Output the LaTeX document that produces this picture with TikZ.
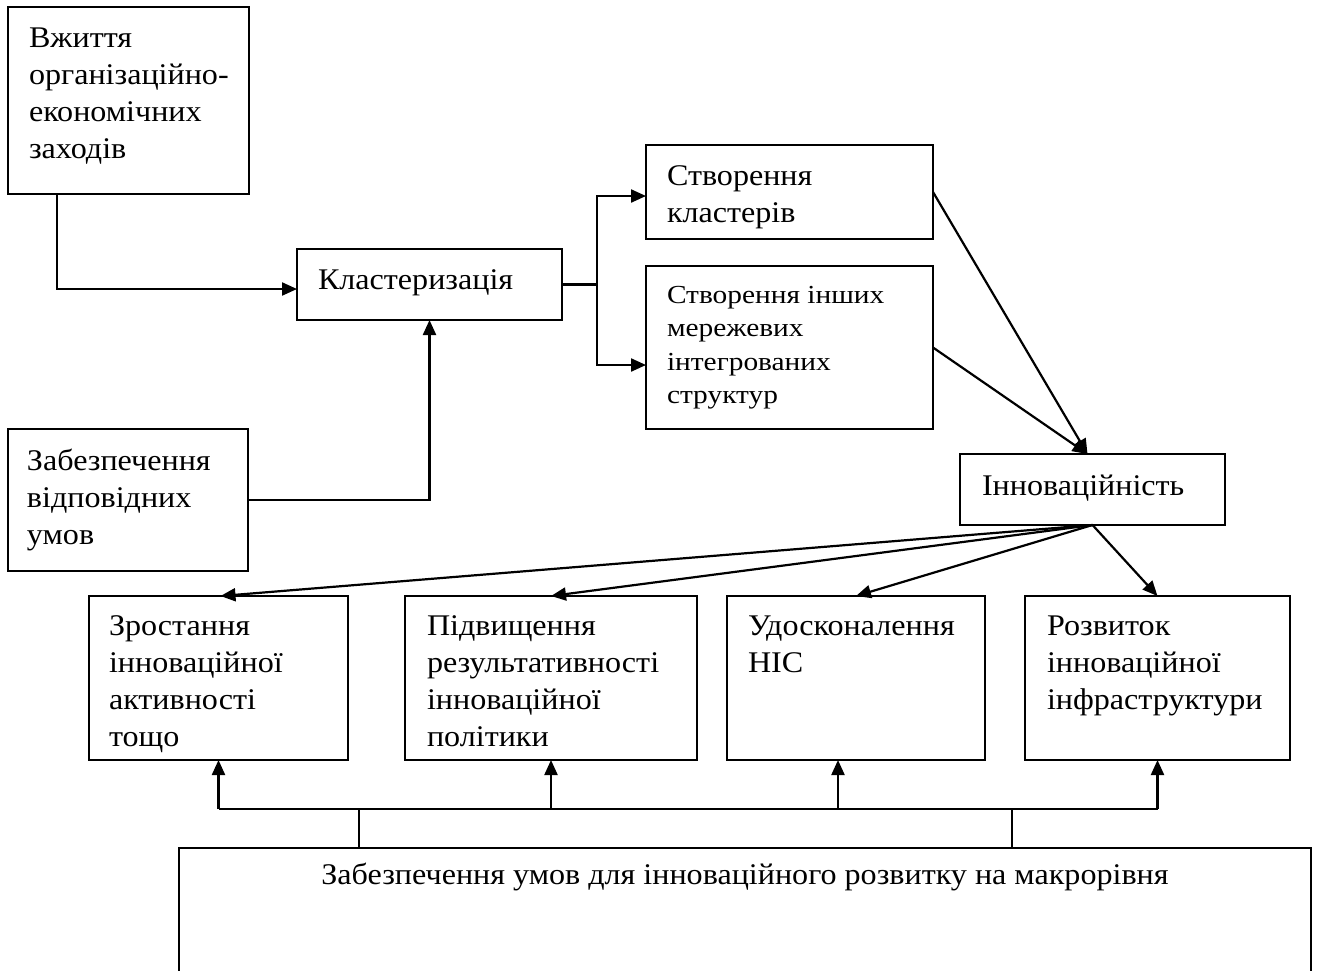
\documentclass[tikz,border=0pt]{standalone}
\usepackage{fontspec}
\setmainfont[FakeStretch=1.07]{Liberation Serif}
\newfontfamily\narrowfont[FakeStretch=1.13]{Liberation Serif}
\usetikzlibrary{arrows.meta}
\newcommand{\myStrut}{\rule{0pt}{22pt}}
\newcommand{\myStrutS}{\rule{0pt}{18pt}}
\begin{document}
\begin{tikzpicture}[x=1pt,y=-1pt,
  box/.style={draw, line width=2.4pt, inner sep=0pt, outer sep=0pt, anchor=north west, rectangle},
  txt/.style={font=\fontsize{30}{37}\selectfont, align=left, inner sep=0pt, outer sep=0pt, anchor=north west},
  txts/.style={font=\narrowfont\fontsize{26}{33.5}\selectfont, align=left, inner sep=0pt, outer sep=0pt, anchor=north west},
  con/.style={line width=2.2pt},
  thincon/.style={line width=1.7pt},
  arr/.style={line width=2.2pt, -{Triangle[length=15pt,width=13pt]}},
]
\useasboundingbox (0,0) rectangle (1317,970);
\fill[white] (0,0) rectangle (1317,970);
\clip (0,0) rectangle (1317,970);

% boxes
\node[box, minimum width=241pt, minimum height=187pt] (n1) at (8,7) {};
\node[txt] (t1) at ([xshift=21pt,yshift=-18pt]n1.north west) {\myStrut Вжиття\\організаційно-\\економічних\\заходів};

\node[box, minimum width=265pt, minimum height=71pt] (n2) at (297,249) {};
\node[txt] (t2) at ([xshift=21pt,yshift=-18pt]n2.north west) {\myStrut Кластеризація};

\node[box, minimum width=287pt, minimum height=94pt] (n3) at (646,145) {};
\node[txt] (t3) at ([xshift=21pt,yshift=-18pt]n3.north west) {\myStrut Створення\\кластерів};

\node[box, minimum width=287pt, minimum height=163pt] (n4) at (646,266) {};
\node[txts] (t4) at ([xshift=21pt,yshift=-19pt]n4.north west) {\myStrutS Створення інших\\мережевих\\інтегрованих\\структур};

\node[box, minimum width=240pt, minimum height=142pt] (n5) at (8,429) {};
\node[txt] (t5) at ([xshift=19pt,yshift=-19pt]n5.north west) {\myStrut Забезпечення\\відповідних\\умов};

\node[box, minimum width=265pt, minimum height=71pt] (n6) at (960,454) {};
\node[txt] (t6) at ([xshift=22pt,yshift=-19pt]n6.north west) {\myStrut Інноваційність};

\node[box, minimum width=259pt, minimum height=164pt] (a) at (89,596) {};
\node[txt] (ta) at ([xshift=20pt,yshift=-17pt]a.north west) {\myStrut Зростання\\інноваційної\\активності\\тощо};

\node[box, minimum width=292pt, minimum height=164pt] (b) at (405,596) {};
\node[txt] (tb) at ([xshift=22pt,yshift=-17pt]b.north west) {\myStrut Підвищення\\результативності\\інноваційної\\політики};

\node[box, minimum width=258pt, minimum height=164pt] (c) at (727,596) {};
\node[txt] (tc) at ([xshift=21pt,yshift=-17pt]c.north west) {\myStrut Удосконалення\\НІС};

\node[box, minimum width=265pt, minimum height=164pt] (d) at (1025,596) {};
\node[txt] (td) at ([xshift=22pt,yshift=-17pt]d.north west) {\myStrut Розвиток\\інноваційної\\інфраструктури};

\node[box, line width=2.2pt, minimum width=1132pt, minimum height=200pt] (macro) at (179,848) {};
\node[txt, anchor=base] (tm) at ([yshift=-36pt]macro.north) {Забезпечення умов для інноваційного розвитку на макрорівня};

% connectors
\draw[arr] ([xshift=49pt]n1.south west) |- ([yshift=-4.5pt]n2.west);
\draw[arr] (n5.east) -| (n2.south);
\coordinate (br) at ([xshift=35pt]n2.east);
\draw[con] (n2.east) -- (br);
\draw[arr] (br) |- ([yshift=-4pt]n3.west);
\draw[arr] (br) |- ([yshift=-17.5pt]n4.west);
\draw[arr] (n3.east) -- ([xshift=-5pt]n6.north);
\draw[arr] (n4.east) -- ([xshift=-5pt]n6.north);
\draw[arr] (n6.south) -- ([xshift=2pt]a.north);
\draw[arr] (n6.south) -- (b.north);
\draw[arr] (n6.south) -- (c.north);
\draw[arr] (n6.south) -- (d.north);

% bus
\coordinate (busL) at ([yshift=-49pt]a.south);
\coordinate (busR) at ([yshift=-49pt]d.south);
\coordinate (cs) at ([xshift=-18pt]c.south);
\coordinate (v1) at ([xshift=140.5pt]busL);
\coordinate (v2) at ([xshift=-145.5pt]busR);
\draw[con] (busL) -- (busR);
\draw[arr] (busL) -- (a.south);
\draw[arr] (b.south |- busL) -- (b.south);
\draw[arr] (cs |- busL) -- (cs);
\draw[arr] (busR) -- (d.south);
\draw[thincon] (v1) -- (v1 |- macro.north);
\draw[thincon] (v2) -- (v2 |- macro.north);
\end{tikzpicture}
\end{document}
